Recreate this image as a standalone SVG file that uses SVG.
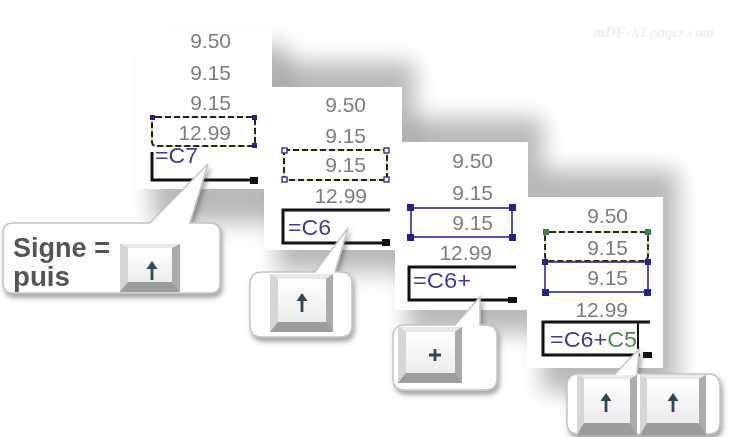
<svg xmlns="http://www.w3.org/2000/svg" width="744" height="437" viewBox="0 0 744 437">
<defs>
<filter id="soft" x="-40%" y="-40%" width="180%" height="180%"><feGaussianBlur stdDeviation="11"/></filter>
<filter id="ds" x="-15%" y="-30%" width="140%" height="170%"><feDropShadow dx="2" dy="4" stdDeviation="2.5" flood-color="#444" flood-opacity="0.5"/></filter>
<linearGradient id="face" x1="0" y1="0" x2="0" y2="1"><stop offset="0" stop-color="#ffffff"/><stop offset="1" stop-color="#ececec"/></linearGradient>
<g id="arrow"><line x1="0" y1="4" x2="0" y2="19" stroke="#2b4656" stroke-width="2.8"/><polygon points="-5.5,8 0,0 5.5,8" fill="#2b4656"/></g>
</defs>
<style>
.card{fill:#ffffff}
.sh{fill:#808080;opacity:0.55}
.n{font-family:"Liberation Sans",Arial,sans-serif;font-size:21px;fill:#7d7d7d;text-anchor:end}
.f{font-family:"Liberation Sans",Arial,sans-serif;font-size:22px;fill:#3c3c9c}
.g{fill:#4e8a4e}
.cell{fill:none;stroke:#111;stroke-width:3}
.ant1{fill:none;stroke:#e4e2a8;stroke-width:2.2}
.ant2{fill:none;stroke:#222;stroke-width:2;stroke-dasharray:6 3}
.hb{fill:#22228a}
.hg{fill:#3d7d3d}
.bub{fill:#ffffff;stroke:#c4c4c4;stroke-width:1.5}
.lab{font-family:"Liberation Sans",Arial,sans-serif;font-weight:bold;font-size:28px;fill:#555555}
.kout{fill:#b9b9b9}
.kt{fill:#e9e9e9}
.kl{fill:#d6d6d6}
.kr{fill:#ababab}
.kb{fill:#9c9c9c}
.wm{font-family:"Liberation Serif",serif;font-style:italic;font-weight:bold;font-size:15px;fill:#f1f1f1}
</style>
<rect width="744" height="437" fill="#ffffff"/>
<text class="wm" x="593" y="37">mDF-XLpages.com</text>

<!-- shadows -->
<g id="shadows" filter="url(#soft)">
<rect class="sh" x="152" y="45" width="136" height="178"/>
<rect class="sh" x="277" y="62" width="138" height="210"/>
<rect class="sh" x="407" y="118" width="136" height="215"/>
<rect class="sh" x="542" y="170" width="136" height="222"/>
</g>

<!-- panel 1 -->
<g id="panel1">
<rect class="card" x="136" y="28" width="136" height="161"/>
<text class="n" x="231" y="48">9.50</text>
<text class="n" x="231" y="80">9.15</text>
<text class="n" x="231" y="110">9.15</text>
<rect class="ant1" x="152" y="117" width="103" height="29" rx="4"/>
<rect class="ant2" x="152" y="117" width="103" height="29" rx="4"/>
<rect class="hb" x="150" y="115" width="5" height="5"/>
<rect class="hb" x="252" y="115" width="5" height="5"/>
<rect class="hb" x="252" y="143" width="5" height="5"/>
<text class="n" x="231" y="140">12.99</text>
<text class="f" x="155" y="163" textLength="43" lengthAdjust="spacingAndGlyphs">=C7</text>
<polyline class="cell" points="152,152 152,180 252,180"/>
<rect x="250" y="177" width="8" height="7" fill="#111"/>
</g>

<!-- panel 2 -->
<g id="panel2">
<rect class="card" x="264" y="87" width="138" height="163"/>
<text class="n" x="366" y="112">9.50</text>
<text class="n" x="366" y="143">9.15</text>
<rect class="ant1" x="284" y="150" width="103" height="30"/>
<rect class="ant2" x="284" y="150" width="103" height="30"/>
<rect x="282" y="148" width="5" height="5" fill="#fff" stroke="#22228a" stroke-width="1.3"/>
<rect x="384" y="148" width="5" height="5" fill="#fff" stroke="#22228a" stroke-width="1.3"/>
<rect x="282" y="177" width="5" height="5" fill="#fff" stroke="#22228a" stroke-width="1.3"/>
<rect x="384" y="177" width="5" height="5" fill="#fff" stroke="#22228a" stroke-width="1.3"/>
<text class="n" x="366" y="172">9.15</text>
<text class="n" x="367" y="203">12.99</text>
<polyline class="cell" points="390,210 283,210 283,243 384,243"/>
<rect x="382" y="239" width="8" height="7" fill="#111"/>
<text class="f" x="288" y="235" textLength="43" lengthAdjust="spacingAndGlyphs">=C6</text>
</g>

<!-- panel 3 -->
<g id="panel3">
<rect class="card" x="395" y="142" width="133" height="168"/>
<text class="n" x="493" y="168">9.50</text>
<text class="n" x="493" y="200">9.15</text>
<rect x="411" y="208" width="101" height="29" fill="none" stroke="#2a2a9a" stroke-width="1.6"/>
<rect class="hb" x="407" y="204" width="7" height="7"/>
<rect class="hb" x="509" y="204" width="7" height="7"/>
<rect class="hb" x="407" y="234" width="7" height="7"/>
<rect class="hb" x="509" y="234" width="7" height="7"/>
<text class="n" x="493" y="230">9.15</text>
<text class="n" x="492" y="260">12.99</text>
<polyline class="cell" points="516,267 409,267 409,300 508,300"/>
<rect x="508" y="297" width="9" height="6" fill="#111"/>
<text class="f" x="413" y="288" textLength="58" lengthAdjust="spacingAndGlyphs">=C6+</text>
</g>

<!-- panel 4 -->
<g id="panel4">
<rect class="card" x="527" y="197" width="136" height="171"/>
<text class="n" x="628" y="223">9.50</text>
<rect class="ant1" x="545" y="232" width="103" height="29" rx="5"/>
<rect x="545" y="232" width="103" height="29" rx="5" fill="none" stroke="#2a2a2a" stroke-width="2" stroke-dasharray="6 3"/>
<rect class="hg" x="543" y="229" width="6" height="6"/>
<rect class="hg" x="645" y="229" width="6" height="6"/>
<text class="n" x="628" y="255">9.15</text>
<rect x="545" y="262" width="103" height="30" fill="none" stroke="#2a2a9a" stroke-width="1.6"/>
<rect class="hb" x="542" y="259" width="6" height="6"/>
<rect class="hb" x="645" y="259" width="6" height="6"/>
<rect class="hb" x="542" y="289" width="7" height="7"/>
<rect class="hb" x="644" y="289" width="7" height="7"/>
<text class="n" x="628" y="285">9.15</text>
<text class="n" x="628" y="317">12.99</text>
<polyline class="cell" points="650,322 543,322 543,355 640,355"/>
<line x1="638" y1="322" x2="638" y2="349" stroke="#111" stroke-width="2"/>
<rect x="643" y="352" width="9" height="6" fill="#111"/>
<text class="f" x="550" y="347" textLength="87" lengthAdjust="spacingAndGlyphs">=C6+<tspan class="g">C5</tspan></text>
</g>

<!-- callouts -->
<g id="callouts">
<g id="bubble1">
<path class="bub" filter="url(#ds)" d="M13 223 H150 L208 164 L190 223 H210 Q220 223 220 233 V283 Q220 293 210 293 H13 Q3 293 3 283 V233 Q3 223 13 223 Z"/>
<text class="lab" x="13" y="257" textLength="97" lengthAdjust="spacingAndGlyphs">Signe =</text>
<text class="lab" x="13" y="286" textLength="57" lengthAdjust="spacingAndGlyphs">puis</text>
<g id="key1">
<rect class="kout" x="120" y="244" width="60" height="48"/>
<polygon class="kt" points="120,244 180,244 172,248 128,248"/>
<polygon class="kl" points="120,244 128,248 128,282 120,292"/>
<polygon class="kr" points="180,244 180,292 172,282 172,248"/>
<polygon class="kb" points="120,292 128,282 172,282 180,292"/>
<rect x="128" y="248" width="44" height="34" fill="url(#face)"/>
<use href="#arrow" x="152" y="261"/>
</g>
</g>
<g id="bubble2">
<path class="bub" filter="url(#ds)" d="M262 272 H315 L348 228 L335 272 H340 Q352 272 352 284 V325 Q352 337 340 337 H262 Q250 337 250 325 V284 Q250 272 262 272 Z"/>
<g id="key2">
<rect class="kout" x="270" y="274" width="63" height="58"/>
<polygon class="kt" points="270,274 333,274 326,279 278,279"/>
<polygon class="kl" points="270,274 278,279 278,322 270,332"/>
<polygon class="kr" points="333,274 333,332 326,322 326,279"/>
<polygon class="kb" points="270,332 278,322 326,322 333,332"/>
<rect x="278" y="279" width="48" height="43" fill="url(#face)"/>
<use href="#arrow" x="302" y="293"/>
</g>
</g>
<g id="bubble3">
<path class="bub" filter="url(#ds)" d="M405 325 H455 L480 297 L480 325 H485 Q497 325 497 337 V378 Q497 390 485 390 H405 Q393 390 393 378 V337 Q393 325 405 325 Z"/>
<g id="key3">
<rect class="kout" x="398" y="327" width="64" height="56"/>
<polygon class="kt" points="398,327 462,327 455,332 406,332"/>
<polygon class="kl" points="398,327 406,332 406,373 398,383"/>
<polygon class="kr" points="462,327 462,383 455,373 455,332"/>
<polygon class="kb" points="398,383 406,373 455,373 462,383"/>
<rect x="406" y="332" width="49" height="41" fill="url(#face)"/>
<path d="M429 355 H441 M435 349 V361" stroke="#2b4656" stroke-width="2.8"/>
</g>
</g>
<g id="bubble4">
<path class="bub" filter="url(#ds)" d="M579 374 H615 L639 349 L637 374 H708 Q720 374 720 386 V422 Q720 434 708 434 H579 Q567 434 567 422 V386 Q567 374 579 374 Z"/>
<g id="keyA">
<rect class="kout" x="577" y="375" width="60" height="60"/>
<polygon class="kt" points="577,375 637,375 630,379 584,379"/>
<polygon class="kl" points="577,375 584,379 584,423 577,435"/>
<polygon class="kr" points="637,375 637,435 630,423 630,379"/>
<polygon class="kb" points="577,435 584,423 630,423 637,435"/>
<rect x="584" y="379" width="46" height="44" fill="url(#face)"/>
<use href="#arrow" x="606" y="393"/>
</g>
<g id="keyB">
<rect class="kout" x="640" y="375" width="66" height="60"/>
<polygon class="kt" points="640,375 706,375 699,379 647,379"/>
<polygon class="kl" points="640,375 647,379 647,423 640,435"/>
<polygon class="kr" points="706,375 706,435 699,423 699,379"/>
<polygon class="kb" points="640,435 647,423 699,423 706,435"/>
<rect x="647" y="379" width="52" height="44" fill="url(#face)"/>
<use href="#arrow" x="673" y="393"/>
</g>
</g>
</g>
</svg>
